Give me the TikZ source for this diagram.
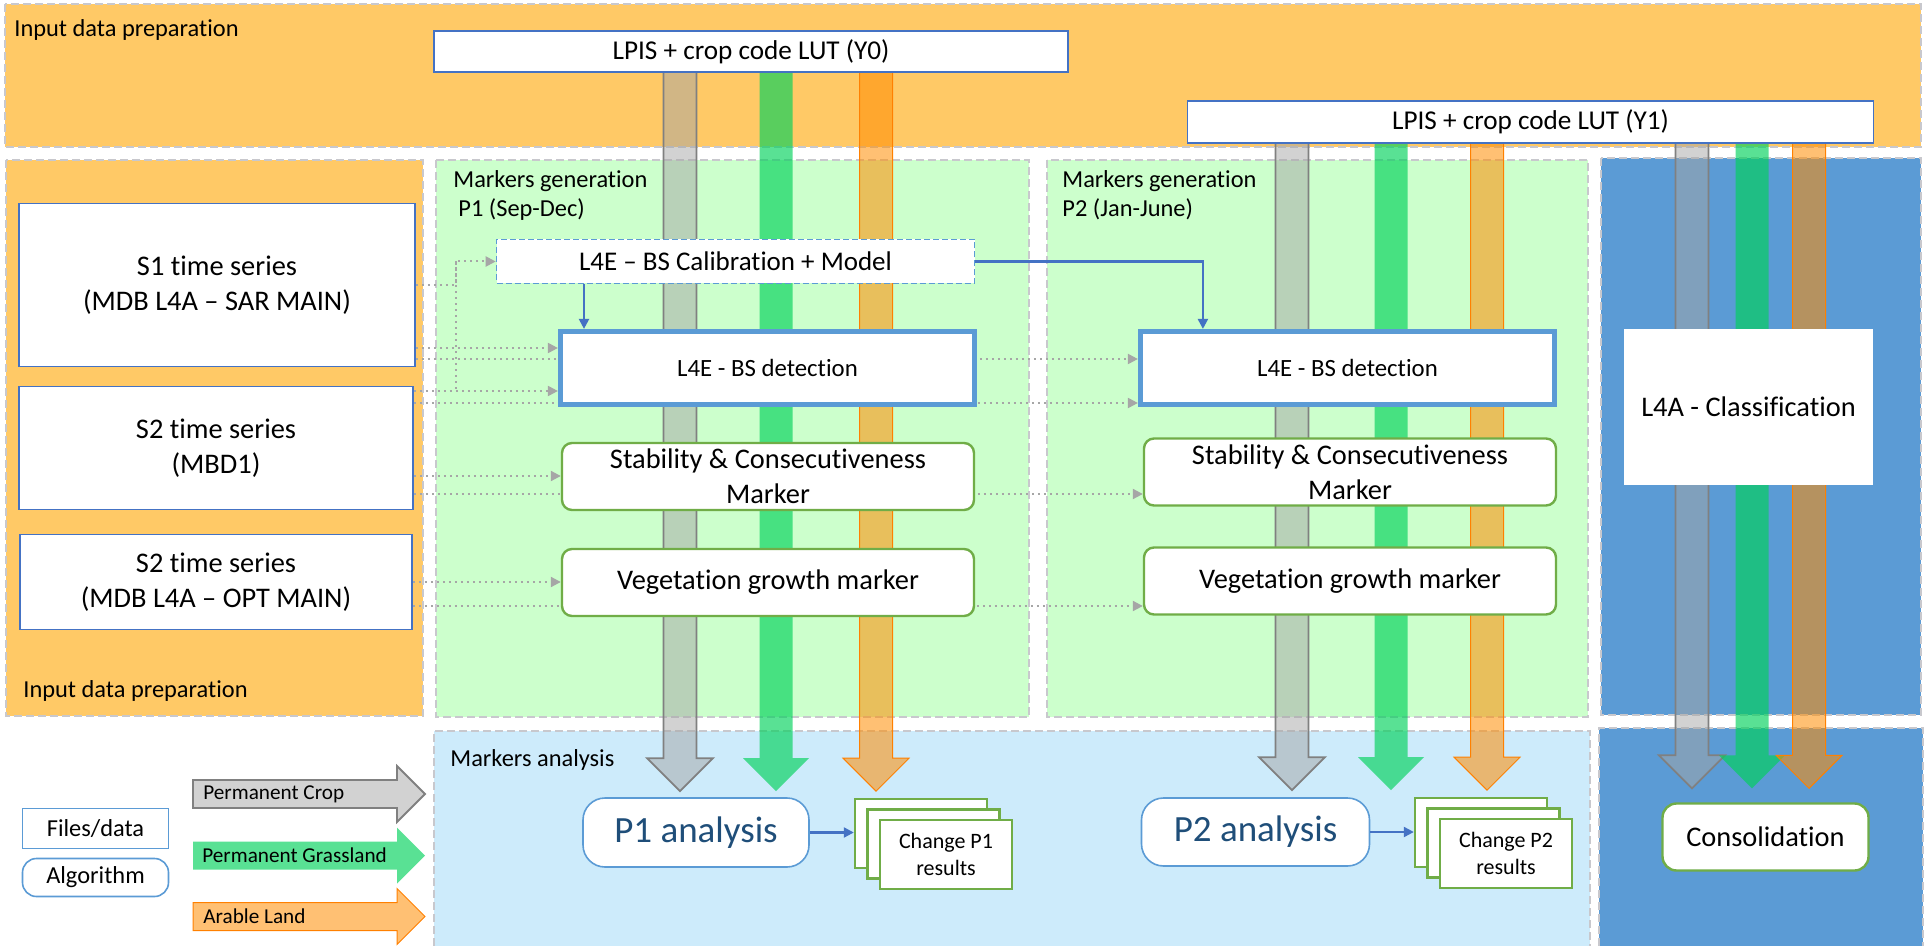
\documentclass[tikz,border=0pt]{standalone}
\usepackage{fontspec}
\setmainfont{Carlito}[Ligatures=NoCommon]
\usetikzlibrary{calc,arrows.meta,shadows}

\definecolor{prepor}{RGB}{255,201,102}
\definecolor{genlight}{RGB}{204,255,204}
\definecolor{analight}{RGB}{205,235,251}
\definecolor{clsblue}{RGB}{91,155,213}
\definecolor{fileblue}{RGB}{68,114,196}
\definecolor{mkgreen}{RGB}{112,173,71}
\definecolor{dotgrey}{RGB}{166,166,166}
\definecolor{panelgrey}{RGB}{200,200,205}
\definecolor{bandgrey}{RGB}{165,165,165}
\definecolor{bandgreen}{RGB}{0,209,90}
\definecolor{bandorange}{RGB}{255,140,0}
\definecolor{anablue}{RGB}{31,78,121}

\pgfdeclarelayer{panels}
\pgfdeclarelayer{bands}
\pgfsetlayers{panels,bands,main}

\newcommand{\srcfont}{\fontsize{14.2}{17.5}\selectfont}
\newcommand{\bsfont}{\fontsize{12.4}{15}\selectfont}
\newcommand{\calfont}{\fontsize{13.5}{16}\selectfont}
\newcommand{\lutfont}{\fontsize{13.6}{16}\selectfont}
\newcommand{\ttlfont}{\fontsize{12.2}{14.5}\selectfont}
\newcommand{\anafont}{\fontsize{18.5}{21}\selectfont}
\newcommand{\resfont}{\fontsize{11}{13.5}\selectfont}
\newcommand{\legfont}{\fontsize{12.2}{14}\selectfont}
\newcommand{\lgarrfont}{\fontsize{10.6}{13}\selectfont}

% vertical band arrow: start, tip, style
\newcommand{\vband}[3]{%
  \path[#3] ($(#1)+(-16.5,0)$) -- ($(#2)+(-16.5,-33)$) -- ($(#2)+(-33,-33)$)
    -- (#2) -- ($(#2)+(33,-33)$) -- ($(#2)+(16.5,-33)$) -- ($(#1)+(16.5,0)$) -- cycle;}
% horizontal band arrow (legend)
\newcommand{\hband}[3]{%
  \path[#3] ($(#1)+(0,-14)$) -- ($(#2)+(-28,-14)$) -- ($(#2)+(-28,-28)$)
    -- (#2) -- ($(#2)+(-28,28)$) -- ($(#2)+(-28,14)$) -- ($(#1)+(0,14)$) -- cycle;}

\begin{document}
\begin{tikzpicture}[x=0.5pt,y=-0.5pt,
  panel/.style={draw=panelgrey,dash pattern=on 4pt off 2pt,line width=0.8pt},
  ttl/.style={inner sep=0,align=left,font=\ttlfont},
  filebox/.style={draw=fileblue,fill=white,line width=0.8pt,inner sep=0,align=center,font=\srcfont},
  calibbox/.style={filebox,draw=clsblue,dash pattern=on 3pt off 1.5pt,font=\calfont},
  bsbox/.style={draw=clsblue,fill=white,line width=2.6pt,inner sep=0,font=\bsfont,minimum width=207pt,minimum height=36.5pt},
  markbox/.style={draw=mkgreen,fill=white,line width=1.2pt,rounded corners=5pt,inner sep=0,align=center,font=\srcfont,minimum width=206pt,minimum height=33.5pt},
  algbox/.style={draw=clsblue,fill=white,line width=0.8pt,inner sep=0,align=center},
  resbox/.style={draw=mkgreen,fill=white,line width=1.2pt,inner sep=0,align=center,font=\resfont,
    minimum width=66pt,minimum height=34.5pt,
    copy shadow={shadow xshift=-12.5pt,shadow yshift=10.5pt},
    copy shadow={shadow xshift=-6.25pt,shadow yshift=5.25pt}},
  dotline/.style={dotgrey,line width=1pt,dotted},
  dotarrow/.style={dotline,-{Triangle[width=5pt,length=5pt]}},
  bluearrow/.style={fileblue,line width=1.1pt,-{Triangle[width=5pt,length=5pt]}},
  greyband/.style={fill=bandgrey,fill opacity=0.5,draw=gray,line width=0.9pt},
  greenband/.style={fill=bandgreen,fill opacity=0.65},
  orangeband/.style={fill=bandorange,fill opacity=0.55,draw=orange,line width=0.5pt},
]
\useasboundingbox (0,0) rectangle (1926,946);

% panels
\begin{pgfonlayer}{panels}
\filldraw[panel,fill=prepor] (5,4) rectangle (1921,147);
\filldraw[panel,fill=prepor] (6,160) rectangle (423,716);
\filldraw[panel,fill=genlight] (436,160) rectangle (1029,717);
\filldraw[panel,fill=genlight] (1047,160) rectangle (1588,717);
\filldraw[panel,fill=clsblue] (1601,158) rectangle (1921,715);
\fill[analight] (434,731) rectangle (1590,946);
\draw[panel] (434,946) |- (1590,731) -- (1590,946);
\fill[clsblue] (1599,728) rectangle (1923,946);
\draw[panel] (1599,946) |- (1923,728) -- (1923,946);
\end{pgfonlayer}

\node[ttl,anchor=base west] (ttlprep) at (14,37) {Input data preparation};
\node[ttl,anchor=base west] (ttlprepb) at (23,697) {Input data preparation};
\node[ttl,anchor=north west] (ttlgen1) at (453,170) {Markers generation\\\hspace{2.5pt}P1 (Sep-Dec)};
\node[ttl,anchor=north west] (ttlgen2) at (1062,170) {Markers generation\\P2 (Jan-June)};
\node[ttl,anchor=base west] (ttlana) at (450,766) {Markers analysis};

% input data
\node[filebox,font=\lutfont,minimum width=317pt,minimum height=20.5pt] (y0) at (751,51.5) {LPIS + crop code LUT (Y0)};
\node[filebox,font=\lutfont,minimum width=343pt,minimum height=21pt] (y1) at (1530.5,122) {LPIS + crop code LUT (Y1)};
\node[filebox,minimum width=198pt,minimum height=81.5pt] (s1) at (217,285) {S1 time series\\(MDB L4A – SAR MAIN)};
\node[filebox,minimum width=197pt,minimum height=61.5pt] (s2a) at (216,448) {S2 time series\\(MBD1)};
\node[filebox,minimum width=196pt,minimum height=47.5pt] (s2b) at (216,582) {S2 time series\\(MDB L4A – OPT MAIN)};

% markers generation
\node[calibbox,minimum width=239pt,minimum height=22pt] (calib) at (735.5,261.5) {L4E – BS Calibration + Model};
\node[bsbox] (bs1) at (767.5,368) {L4E - BS detection};
\node[bsbox] (bs2) at (1347.5,368) {L4E - BS detection};
\node[markbox] (stab1) at (768,476.5) {Stability \& Consecutiveness\\Marker};
\node[markbox] (stab2) at (1350,472) {Stability \& Consecutiveness\\Marker};
\node[markbox] (veg1) at (768,582.5) {Vegetation growth marker};
\node[markbox] (veg2) at (1350,581) {Vegetation growth marker};
\node[fill=white,inner sep=0,font=\srcfont,minimum width=124.5pt,minimum height=78pt] (l4a) at (1748.5,407) {L4A - Classification};

% analysis
\node[algbox,rounded corners=11pt,font=\anafont,text=anablue,minimum width=113pt,minimum height=34.5pt] (p1an) at (696,832.5) {P1 analysis};
\node[resbox] (res1) at (946,854.5) {Change P1\\results};
\node[algbox,rounded corners=11pt,font=\anafont,text=anablue,minimum width=114pt,minimum height=34pt] (p2an) at (1255.5,832) {P2 analysis};
\node[resbox] (res2) at (1506,853.5) {Change P2\\results};
\node[markbox,rounded corners=7pt,minimum width=103pt,minimum height=33.5pt] (cons) at (1765.5,837) {Consolidation};

% legend
\node[filebox,draw=clsblue,font=\legfont,minimum width=73pt,minimum height=20pt] (lgfile) at (95.5,828.5) {Files/data};
\node[algbox,rounded corners=7pt,font=\legfont,minimum width=73pt,minimum height=19pt] (lgalg) at (95.5,877.5) {Algorithm};
\hband{193,794}{425,794}{greyband}
\hband{193,855.5}{425,855.5}{greenband}
\hband{193,916.5}{425,916.5}{orangeband}
\node[inner sep=0,anchor=west,font=\lgarrfont] (lgcrop) at (203,794) {Permanent Crop};
\node[inner sep=0,anchor=west,font=\lgarrfont] (lggrass) at (202,855.5) {Permanent Grassland};
\node[inner sep=0,anchor=west,font=\lgarrfont] (lgarable) at (203,916.5) {Arable Land};

\coordinate (jn) at ([xshift=-20pt]calib.west);
\coordinate (t1) at ([yshift=3pt]p1an.north);
\coordinate (t2) at ([yshift=3.5pt]p2an.north);
\coordinate (t3) at ([yshift=7pt]cons.north);
\coordinate (r1in) at ([xshift=-12.5pt]res1.west);
\coordinate (r2in) at ([xshift=-12.5pt]res2.west);

\begin{pgfonlayer}{bands}
% class bands
\vband{y0.center -| 680,0}{t1 -| 680,0}{greyband}
\vband{y0.center -| 776,0}{t1 -| 776,0}{greenband}
\vband{y0.center -| 876,0}{t1 -| 876,0}{orangeband}
\vband{y1.center -| 1292,0}{t2 -| 1292,0}{greyband}
\vband{y1.center -| 1391,0}{t2 -| 1391,0}{greenband}
\vband{y1.center -| 1487,0}{t2 -| 1487,0}{orangeband}
\vband{y1.center -| 1692,0}{t3 -| 1692,0}{greyband}
\vband{y1.center -| 1752,0}{t3 -| 1752,0}{greenband}
\vband{y1.center -| 1809,0}{t3 -| 1809,0}{orangeband}
% time series inputs
\draw[dotarrow] (s1.east |- 0,285) -| (jn) -- (calib.west);
\draw[dotline] (jn) -- (jn |- 0,391);
\draw[dotarrow] (s1.east |- 0,348) -- (bs1.west |- 0,348);
\draw[dotarrow] (s1.east |- 0,359) -- (bs2.west |- 0,359);
\draw[dotarrow] (s2a.east |- 0,391) -- (bs1.west |- 0,391);
\draw[dotarrow] (s2a.east |- 0,403) -- (bs2.west |- 0,403);
\draw[dotarrow] (s2a.east |- 0,476) -- (stab1.west |- 0,476);
\draw[dotarrow] (s2a.east |- 0,494) -- (stab2.west |- 0,494);
\draw[dotarrow] (s2b.east |- 0,582) -- (veg1.west |- 0,582);
\draw[dotarrow] (s2b.east |- 0,606) -- (veg2.west |- 0,606);
\end{pgfonlayer}

\draw[bluearrow] (calib.south -| 584,0) -- (bs1.north -| 584,0);
\draw[bluearrow] (calib.east) -| ([xshift=32.5pt]bs2.north west);
\draw[bluearrow] (p1an.east) -- (r1in |- p1an.east);
\draw[bluearrow] (p2an.east) -- (r2in |- p2an.east);
\end{tikzpicture}
\end{document}
